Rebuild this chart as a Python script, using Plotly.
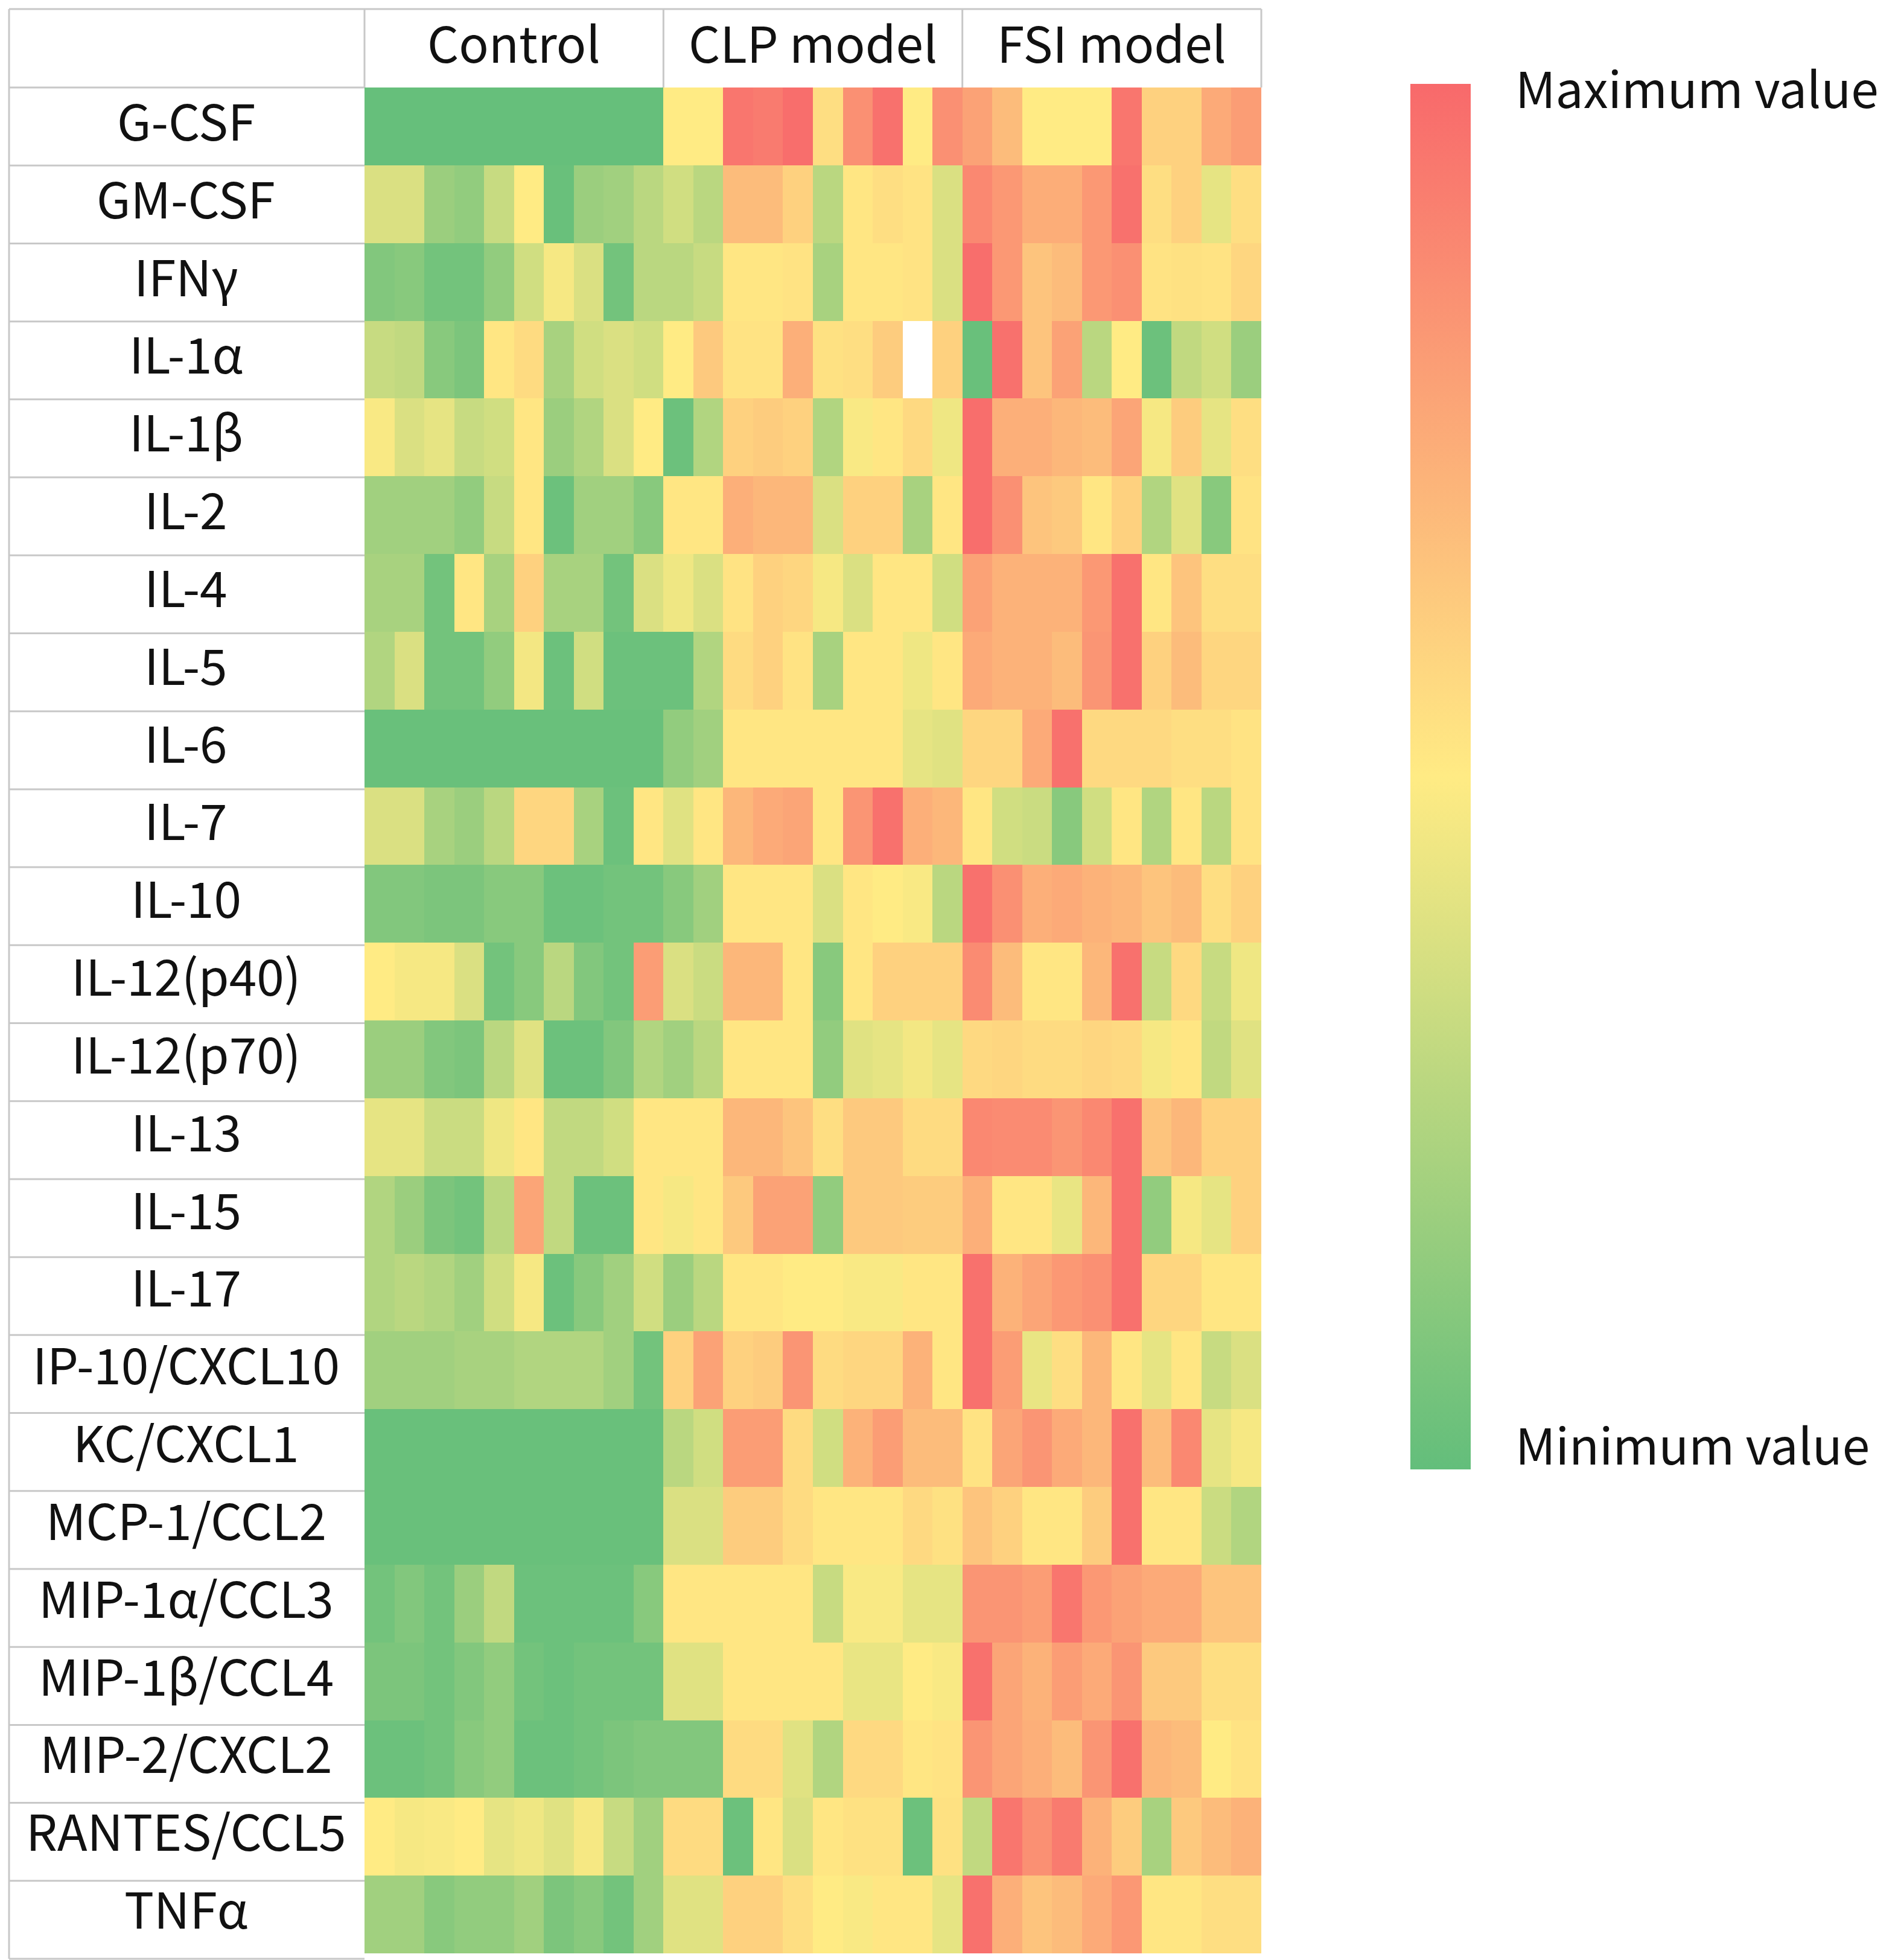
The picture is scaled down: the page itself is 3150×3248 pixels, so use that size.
import plotly.graph_objects as go

W, H = 3150, 3248

cytokines = [
    "G-CSF", "GM-CSF", "IFNγ", "IL-1α", "IL-1β", "IL-2", "IL-4", "IL-5",
    "IL-6", "IL-7", "IL-10", "IL-12(p40)", "IL-12(p70)", "IL-13", "IL-15",
    "IL-17", "IP-10/CXCL10", "KC/CXCL1", "MCP-1/CCL2", "MIP-1α/CCL3",
    "MIP-1β/CCL4", "MIP-2/CXCL2", "RANTES/CCL5", "TNFα",
]
groups = ["Control", "CLP model", "FSI model"]

# relative level per row, 0 = minimum (green), 50 = mid (yellow), 100 = maximum (red)
control = [
    [1, 1, 1, 1, 1, 1, 1, 1, 1, 1],
    [38, 38, 18, 15, 32, 50, 2, 18, 20, 28],
    [10, 12, 5, 5, 15, 35, 47, 38, 5, 28],
    [32, 30, 12, 8, 52, 56, 22, 35, 38, 35],
    [48, 38, 42, 32, 35, 52, 18, 25, 38, 50],
    [20, 20, 20, 15, 32, 52, 3, 20, 20, 12],
    [22, 22, 5, 52, 22, 60, 22, 22, 5, 38],
    [25, 38, 5, 5, 15, 46, 3, 35, 3, 3],
    [2, 2, 2, 2, 2, 2, 2, 2, 2, 2],
    [38, 38, 22, 18, 28, 58, 58, 22, 3, 52],
    [10, 10, 8, 8, 12, 12, 3, 3, 5, 5],
    [50, 47, 47, 38, 5, 12, 28, 10, 5, 80],
    [18, 18, 10, 8, 28, 40, 3, 3, 10, 25],
    [42, 42, 33, 33, 45, 52, 30, 30, 35, 52],
    [25, 18, 8, 5, 28, 77, 30, 3, 3, 52],
    [25, 28, 25, 20, 35, 47, 3, 12, 20, 35],
    [20, 20, 20, 22, 22, 25, 25, 25, 20, 5],
    [2, 2, 2, 2, 2, 2, 2, 2, 2, 2],
    [2, 2, 2, 2, 2, 2, 2, 2, 2, 2],
    [5, 10, 5, 18, 30, 3, 3, 3, 3, 12],
    [8, 8, 5, 10, 15, 5, 3, 5, 5, 5],
    [3, 3, 5, 12, 15, 3, 3, 5, 8, 10],
    [50, 47, 48, 50, 42, 45, 40, 47, 32, 20],
    [20, 20, 12, 15, 15, 20, 8, 12, 5, 20],
]
clp = [
    [50, 50, 95, 93, 98, 55, 85, 97, 50, 85],
    [35, 28, 68, 68, 60, 28, 52, 55, 53, 38],
    [28, 32, 52, 52, 53, 22, 52, 52, 53, 38],
    [50, 63, 53, 53, 73, 54, 55, 62, None, 60],
    [3, 25, 60, 62, 60, 25, 48, 52, 57, 45],
    [52, 52, 73, 70, 70, 38, 60, 60, 22, 52],
    [45, 38, 53, 60, 58, 47, 38, 52, 52, 35],
    [3, 25, 56, 60, 53, 22, 52, 52, 45, 52],
    [15, 20, 52, 52, 52, 52, 52, 52, 42, 40],
    [40, 52, 70, 75, 77, 52, 83, 97, 73, 70],
    [12, 20, 52, 52, 52, 38, 52, 50, 48, 28],
    [38, 33, 70, 70, 52, 12, 52, 60, 60, 60],
    [20, 28, 52, 52, 52, 15, 40, 42, 46, 42],
    [52, 52, 70, 70, 65, 55, 63, 63, 56, 56],
    [47, 52, 63, 78, 78, 15, 63, 63, 62, 62],
    [18, 28, 52, 52, 50, 50, 48, 48, 52, 52],
    [60, 78, 60, 62, 83, 56, 58, 58, 72, 52],
    [28, 35, 80, 80, 56, 35, 72, 80, 68, 68],
    [38, 38, 62, 62, 56, 52, 52, 52, 57, 54],
    [52, 52, 52, 52, 52, 32, 48, 48, 42, 42],
    [40, 40, 52, 52, 52, 52, 43, 43, 50, 48],
    [10, 10, 56, 56, 40, 25, 57, 57, 52, 53],
    [56, 56, 3, 52, 38, 52, 54, 54, 3, 54],
    [40, 40, 60, 60, 55, 50, 48, 52, 52, 42],
]
fsi = [
    [78, 68, 50, 50, 50, 95, 60, 60, 75, 80],
    [88, 82, 74, 74, 82, 97, 55, 60, 42, 55],
    [98, 82, 65, 68, 82, 85, 53, 54, 53, 58],
    [2, 97, 65, 78, 28, 50, 3, 30, 35, 18],
    [98, 73, 73, 70, 68, 77, 47, 62, 42, 55],
    [98, 85, 65, 63, 52, 60, 25, 40, 12, 53],
    [78, 72, 72, 72, 82, 97, 52, 65, 55, 55],
    [75, 72, 72, 68, 83, 97, 60, 68, 58, 58],
    [58, 58, 75, 97, 57, 57, 57, 55, 55, 53],
    [52, 35, 33, 12, 35, 52, 25, 52, 28, 53],
    [97, 85, 73, 75, 72, 70, 65, 68, 55, 60],
    [87, 68, 52, 52, 70, 97, 32, 57, 32, 45],
    [57, 58, 56, 56, 58, 57, 47, 52, 30, 40],
    [88, 87, 87, 83, 88, 97, 65, 70, 60, 60],
    [73, 52, 52, 43, 70, 97, 15, 47, 42, 60],
    [97, 72, 77, 82, 85, 97, 58, 58, 52, 52],
    [97, 80, 43, 55, 70, 52, 42, 52, 32, 38],
    [53, 77, 83, 75, 70, 97, 68, 88, 42, 47],
    [65, 60, 52, 52, 62, 97, 52, 52, 33, 25],
    [83, 83, 80, 95, 82, 78, 75, 75, 65, 65],
    [97, 77, 72, 80, 75, 83, 63, 63, 55, 55],
    [83, 77, 73, 68, 83, 97, 70, 68, 50, 53],
    [30, 95, 85, 93, 72, 62, 22, 63, 68, 72],
    [97, 73, 65, 68, 75, 82, 52, 52, 55, 55],
]

z = [c + l + f for c, l, f in zip(control, clp, fsi)]
n_cols = len(z[0])
n_rows = len(cytokines)

FONT = "Noto Sans CJK JP"
GRID = "#C8C8C8"

# pixel layout of the table
left, right, top, bottom = 596, 2082, 137, 3238
outer_x, outer_y = 7, 7

fig = go.Figure(go.Heatmap(
    z=z,
    x=list(range(n_cols)),
    y=cytokines,
    zmin=0, zmax=100,
    colorscale=[[0, "#63BE7B"], [0.5, "#FFEB84"], [1, "#F8696B"]],
    hoverongaps=False,
    colorbar=dict(
        xref="container", x=2329 / W, xanchor="left", xpad=0,
        yref="container", y=1 - 137 / H, yanchor="top", ypad=0,
        lenmode="pixels", len=2296,
        thicknessmode="pixels", thickness=100,
        outlinewidth=0,
        tickvals=[99.5, 1.6],
        ticktext=["Maximum value", "Minimum value"],
        ticks="outside", ticklen=58, tickcolor="rgba(0,0,0,0)",
        tickfont=dict(family=FONT, size=82, color="#111111"),
    ),
))


def px_x(px):
    return (px - left) / (right - left)


def px_y(py):
    return 1 - (py - top) / (bottom - top)


shapes = []
line = dict(color=GRID, width=3)
# horizontal lines of the label column
for i in range(n_rows + 1):
    yy = 1 - i / n_rows
    shapes.append(dict(type="line", xref="paper", yref="paper",
                       x0=px_x(outer_x), x1=0, y0=yy, y1=yy, line=line))
# header top line
shapes.append(dict(type="line", xref="paper", yref="paper",
                   x0=px_x(outer_x), x1=1, y0=px_y(outer_y), y1=px_y(outer_y), line=line))
# left border
shapes.append(dict(type="line", xref="paper", yref="paper",
                   x0=px_x(outer_x), x1=px_x(outer_x), y0=px_y(outer_y), y1=0, line=line))
# header cell separators
for xv in [0, 1 / 3, 2 / 3, 1]:
    shapes.append(dict(type="line", xref="paper", yref="paper",
                       x0=xv, x1=xv, y0=1, y1=px_y(outer_y), line=line))

annotations = []
for name in cytokines:
    annotations.append(dict(
        text=name, xref="paper", yref="y", x=px_x(300), y=name, yshift=12,
        xanchor="center", yanchor="middle", showarrow=False,
        font=dict(family=FONT, size=82, color="#111111"),
    ))
for k, g in enumerate(groups):
    annotations.append(dict(
        text=g, xref="x", yref="paper", x=k * 10 + 4.5, y=px_y(61),
        xanchor="center", yanchor="middle", showarrow=False,
        font=dict(family=FONT, size=82, color="#111111"),
    ))

fig.update_layout(
    width=W, height=H,
    margin=dict(l=left, r=W - right, t=top, b=H - bottom, pad=0),
    paper_bgcolor="white", plot_bgcolor="white",
    shapes=shapes, annotations=annotations,
    xaxis=dict(range=[-0.5, n_cols - 0.5], showticklabels=False, showgrid=False,
               zeroline=False, ticks=""),
    yaxis=dict(autorange="reversed", showticklabels=False, showgrid=False,
               zeroline=False, ticks=""),
)

fig.write_html("out.html")
